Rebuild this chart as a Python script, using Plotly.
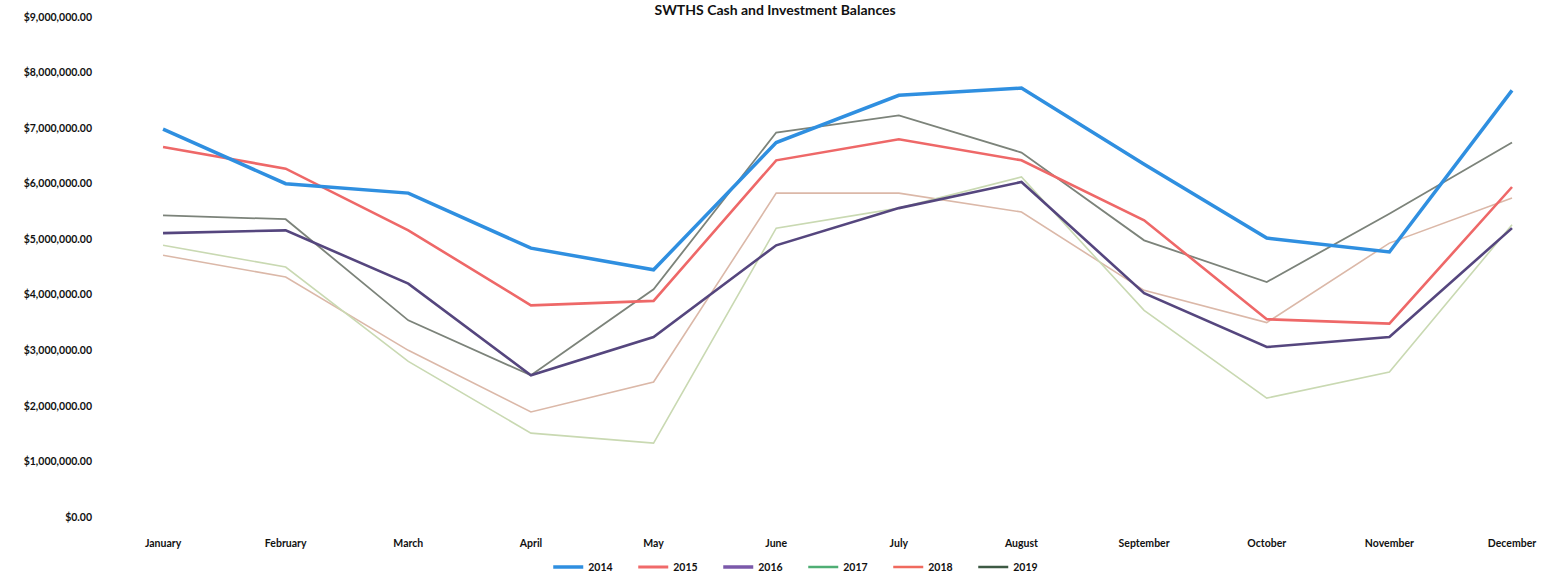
import plotly.graph_objects as go

# Monthly cash and investment balances, one series per year
months = ["January", "February", "March", "April", "May", "June",
          "July", "August", "September", "October", "November", "December"]

bal_2014 = [6980000, 6000000, 5830000, 4840000, 4450000, 6740000,
            7590000, 7720000, 6350000, 5020000, 4770000, 7680000]
bal_2015 = [6660000, 6270000, 5160000, 3810000, 3890000, 6420000,
            6800000, 6420000, 5340000, 3560000, 3480000, 5940000]
bal_2016 = [5110000, 5160000, 4200000, 2550000, 3240000, 4890000,
            5560000, 6030000, 4030000, 3060000, 3240000, 5200000]
bal_2017 = [4890000, 4500000, 2800000, 1510000, 1330000, 5200000,
            5560000, 6120000, 3720000, 2140000, 2610000, 5260000]
bal_2018 = [4710000, 4320000, 3000000, 1890000, 2430000, 5830000,
            5830000, 5490000, 4080000, 3500000, 4930000, 5740000]
bal_2019 = [5430000, 5360000, 3540000, 2550000, 4100000, 6920000,
            7230000, 6560000, 4980000, 4230000, 5460000, 6740000]

years = ["2014", "2015", "2016", "2017", "2018", "2019"]
series = [bal_2014, bal_2015, bal_2016, bal_2017, bal_2018, bal_2019]

# plotted line colour / width, and the colour shown in the legend key
line_colors = ["#2f8fe0", "#ee6868", "#55467e", "#c9d9b2", "#dbb8a8", "#7c837a"]
line_widths = [3.5, 2.6, 2.6, 1.6, 1.6, 1.8]
key_colors = ["#2f8fe0", "#f06a6a", "#7b59aa", "#4fae74", "#f06a5e", "#3d5a44"]
key_widths = [3.5, 3, 3.5, 2.5, 2.5, 2.5]

x_idx = list(range(len(months)))

fig = go.Figure()
# draw older years last-to-first so the thick upper lines sit on top
for i in reversed(range(len(years))):
    fig.add_trace(go.Scatter(
        x=x_idx, y=series[i], mode="lines", name=years[i],
        line=dict(color=line_colors[i], width=line_widths[i]),
        showlegend=False, legendgroup=years[i],
    ))
for i in range(len(years)):
    fig.add_trace(go.Scatter(
        x=[None], y=[None], mode="lines", name=years[i],
        line=dict(color=key_colors[i], width=key_widths[i]),
        legendgroup=years[i],
    ))

label_font = dict(family="Lato", size=10.5, color="#111111", weight="bold")

fig.update_layout(
    width=1544, height=582,
    margin=dict(l=100, r=5, t=17, b=65, autoexpand=False),
    paper_bgcolor="white", plot_bgcolor="white",
    title=dict(text="SWTHS Cash and Investment Balances",
               x=0.502, xanchor="center", y=1 - 10 / 582, yanchor="middle",
               yref="container",
               font=dict(family="Lato", size=14, color="#111111", weight="bold")),
    xaxis=dict(range=[-0.514, 11.22], tickmode="array", tickvals=x_idx,
               ticktext=months, showgrid=False, zeroline=False, showline=False,
               ticks="", tickfont=label_font, ticklabelstandoff=18,
               automargin=False),
    yaxis=dict(range=[0, 9000000], dtick=1000000, tickformat="$,.2f",
               showgrid=False, zeroline=False, showline=False, ticks="",
               tickfont=label_font, ticklabelstandoff=7, automargin=False),
    legend=dict(orientation="h", x=0.3115, xanchor="left", y=-0.1,
                yanchor="middle", entrywidth=40, entrywidthmode="pixels",
                itemwidth=30, font=label_font, traceorder="normal"),
)

fig.write_html("out.html")
